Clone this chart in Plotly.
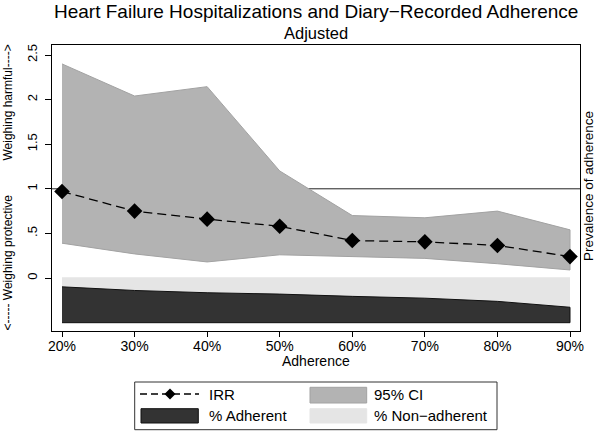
import plotly.graph_objects as go

# ---- data ----
adherence = [20, 30, 40, 50, 60, 70, 80, 90]
tick_labels = ["20%", "30%", "40%", "50%", "60%", "70%", "80%", "90%"]
irr = [0.97, 0.75, 0.66, 0.58, 0.42, 0.405, 0.365, 0.24]
ci_upper = [2.40, 2.04, 2.145, 1.20, 0.70, 0.675, 0.75, 0.54]
ci_lower = [0.39, 0.27, 0.18, 0.26, 0.24, 0.22, 0.16, 0.09]
pct_adherent = [79, 71, 66, 63, 58, 54, 47, 34]
pct_nonadherent = [100 - v for v in pct_adherent]
y_ticks = [0, 0.5, 1, 1.5, 2, 2.5]
y_tick_text = ["0", ".5", "1", "1.5", "2", "2.5"]

FONT = "Liberation Sans, Arial, sans-serif"
DARK = "#333333"
CI_FILL = "#b3b3b3"
LIGHT = "#e5e5e5"

# plot area in pixels
L, R, T, B = 52, 580, 45, 331
W, H = 600, 436


def px(x):
    return (x - L) / (R - L)


def py(y):
    return (B - y) / (B - T)


fig = go.Figure()

# total prevalence (light band)
total = [a + n for a, n in zip(pct_adherent, pct_nonadherent)]
fig.add_trace(go.Scatter(
    x=adherence + adherence[::-1],
    y=total + [0] * len(adherence),
    fill="toself", fillcolor=LIGHT, mode="lines",
    line=dict(color=LIGHT, width=0), yaxis="y2", hoverinfo="skip",
    showlegend=False))
# % adherent (dark band)
fig.add_trace(go.Scatter(
    x=adherence + adherence[::-1],
    y=pct_adherent + [0] * len(adherence),
    fill="toself", fillcolor=DARK, mode="lines",
    line=dict(color="#111111", width=1), yaxis="y2", hoverinfo="skip",
    showlegend=False))
# 95% CI
fig.add_trace(go.Scatter(
    x=adherence + adherence[::-1],
    y=ci_upper + ci_lower[::-1],
    fill="toself", fillcolor=CI_FILL, mode="lines",
    line=dict(color="#a2a2a2", width=1), hoverinfo="skip",
    showlegend=False))
# IRR
fig.add_trace(go.Scatter(
    x=adherence, y=irr, mode="lines+markers",
    line=dict(color="black", width=1.3, dash="9px,5px"),
    marker=dict(symbol="diamond", size=12, color="black"),
    showlegend=False))

# reference line at 1
fig.add_shape(type="line", xref="x domain", x0=0, x1=1, yref="y", y0=1, y1=1,
              line=dict(color="#222222", width=1), layer="below")

# ---- manual legend ----
lw = dict(xref="paper", yref="paper")
fig.add_shape(type="rect", x0=px(134.7), x1=px(497), y0=py(382), y1=py(429.7),
              line=dict(color="#333333", width=1), fillcolor="white", **lw)
fig.add_shape(type="line", x0=px(140), x1=px(199), y0=py(394), y1=py(394),
              line=dict(color="black", width=1.3, dash="7px,4px"), **lw)
cx, cy, d = 170, 394, 5.5
fig.add_shape(type="path",
              path=f"M {px(cx - d)} {py(cy)} L {px(cx)} {py(cy - d)} L {px(cx + d)} {py(cy)} L {px(cx)} {py(cy + d)} Z",
              fillcolor="black", line=dict(color="black", width=0), **lw)
fig.add_shape(type="rect", x0=px(141), x1=px(198.3), y0=py(408.7), y1=py(423),
              fillcolor=DARK, line=dict(color="#111111", width=1), **lw)
fig.add_shape(type="rect", x0=px(310), x1=px(366.7), y0=py(387.3), y1=py(403),
              fillcolor=CI_FILL, line=dict(color="#a2a2a2", width=1), **lw)
fig.add_shape(type="rect", x0=px(310), x1=px(366.7), y0=py(408.7), y1=py(423),
              fillcolor=LIGHT, line=dict(color=LIGHT, width=1), **lw)

ann = []


def text(t, x, y, size, anchor="center", angle=0):
    ann.append(dict(text=t, x=px(x), y=py(y), xref="paper", yref="paper",
                    xanchor=anchor, yanchor="middle", showarrow=False,
                    textangle=angle, font=dict(family=FONT, size=size, color="black")))


text("IRR", 207, 394.5, 15, "left")
text("% Adherent", 207, 415.5, 15, "left")
text("95% CI", 371.5, 394.5, 15, "left")
text("% Non\u2212adherent", 371.5, 415.5, 15, "left")

text("Heart Failure Hospitalizations and Diary\u2212Recorded Adherence", 316, 12, 19)
text("Adjusted", 316, 33, 16.5)
text("Adherence", 316, 361, 14)
text("Weighing harmful---->", 7.5, 103, 12, angle=-90)
text("<----- Weighing protective", 7.5, 263, 12, angle=-90)
text("Prevalence of adherence", 588, 186, 13.5, angle=-90)

xspan = (adherence[-1] - adherence[0]) / (570 - 62)
yspan = 1 / 89.2
pspan = 100 / (322.7 - 277.3)

fig.update_layout(
    width=W, height=H,
    margin=dict(l=L, r=W - R, t=T, b=H - B, pad=0),
    paper_bgcolor="white", plot_bgcolor="white",
    font=dict(family=FONT, size=14, color="black"),
    showlegend=False,
    annotations=ann,
    xaxis=dict(
        range=[adherence[0] - (62 - L) * xspan, adherence[-1] + (R - 570) * xspan],
        tickvals=adherence, ticktext=tick_labels,
        ticks="outside", ticklen=5, tickcolor="black", tickwidth=1,
        showline=True, linecolor="black", linewidth=1, mirror=True,
        showgrid=False, zeroline=False, ticklabelstandoff=-3,
        tickfont=dict(family=FONT, size=14)),
    yaxis=dict(
        range=[-(B - 278) * yspan, (278 - T) * yspan],
        tickvals=y_ticks, ticktext=y_tick_text, tickangle=-90,
        ticks="outside", ticklen=6, tickcolor="black", tickwidth=1,
        showline=True, linecolor="black", linewidth=1, mirror=True,
        showgrid=False, zeroline=False, ticklabelstandoff=3,
        tickfont=dict(family=FONT, size=13)),
    yaxis2=dict(
        overlaying="y", side="right",
        range=[-(B - 322.7) / (322.7 - 277.3) * 100, 100 + (277.3 - T) * pspan],
        showticklabels=False, ticks="", showgrid=False, zeroline=False,
        showline=False),
)

fig.write_html("out.html", config={"displayModeBar": False},
               post_script="document.body.style.margin='0';document.body.style.padding='0';")
